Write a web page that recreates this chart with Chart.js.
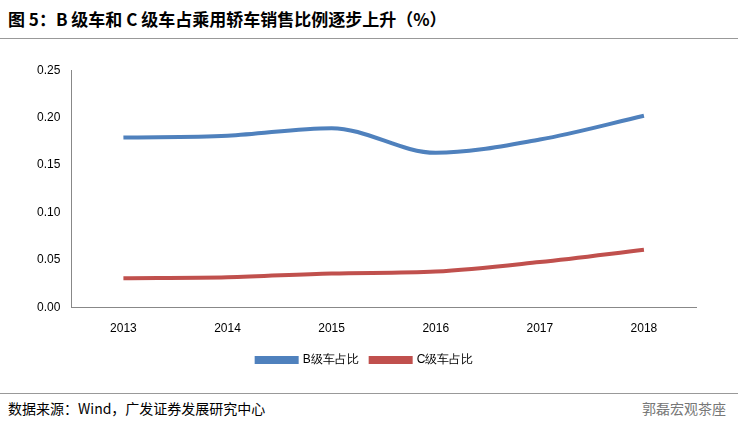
<!DOCTYPE html>
<html><head><meta charset="utf-8">
<script src="https://cdn.jsdelivr.net/npm/chart.js@4"></script>
<style>
body{margin:0;width:738px;height:424px;background:#fff;font-family:"Noto Sans CJK SC",sans-serif;position:relative;overflow:hidden}
#title{position:absolute;left:8px;top:6px;font-size:17px;font-weight:bold;color:#000}
#hr1{position:absolute;left:0;right:0;top:38px;border-top:1px solid #999}
#box{position:absolute;left:20px;top:60px;width:700px;height:322px}
#hr2{position:absolute;left:0;right:0;top:393px;border-top:1px solid #999}
#src{position:absolute;left:8px;top:398px;font-size:14px}
#wm{position:absolute;right:12px;top:398px;font-size:14px;color:#777}
</style></head><body>
<div id="title">图 5：B 级车和 C 级车占乘用轿车销售比例逐步上升（%）</div>
<div id="hr1"></div>
<div id="box"><canvas id="c"></canvas></div>
<div id="hr2"></div>
<div id="src">数据来源：Wind，广发证券发展研究中心</div>
<div id="wm">郭磊宏观茶座</div>
<script>
const years = ['2013','2014','2015','2016','2017','2018'];
const bShare = [0.179, 0.181, 0.189, 0.163, 0.177, 0.202];
const cShare = [0.031, 0.032, 0.036, 0.038, 0.048, 0.061];

new Chart(document.getElementById('c'), {
    type: 'line',
    data: {
        labels: years,
        datasets: [
            { label: 'B级车占比', data: bShare, borderColor: '#4F81BD', backgroundColor: '#4F81BD', borderWidth: 4, pointRadius: 0, cubicInterpolationMode: 'monotone' },
            { label: 'C级车占比', data: cShare, borderColor: '#C0504D', backgroundColor: '#C0504D', borderWidth: 4, pointRadius: 0, cubicInterpolationMode: 'monotone' }
        ]
    },
    options: {
        responsive: true, maintainAspectRatio: false, animation: false,
        plugins: {
            legend: { position: 'bottom', labels: { boxWidth: 40, boxHeight: 4, padding: 12, color: '#000', font: { size: 12, family: 'Liberation Sans' } } }
        },
        scales: {
            y: { min: 0, max: 0.25, ticks: { stepSize: 0.05, color: '#000', callback: v => v.toFixed(2), font: { size: 12, family: 'Liberation Sans' } }, grid: { display: false }, border: { color: '#888' } },
            x: { offset: true, ticks: { padding: 6, color: '#000', font: { size: 12, family: 'Liberation Sans' } }, grid: { display: false }, border: { color: '#888' } }
        },
        layout: { padding: { left: 14, right: 24, bottom: 6 } }
    }
});
</script>
</body></html>
